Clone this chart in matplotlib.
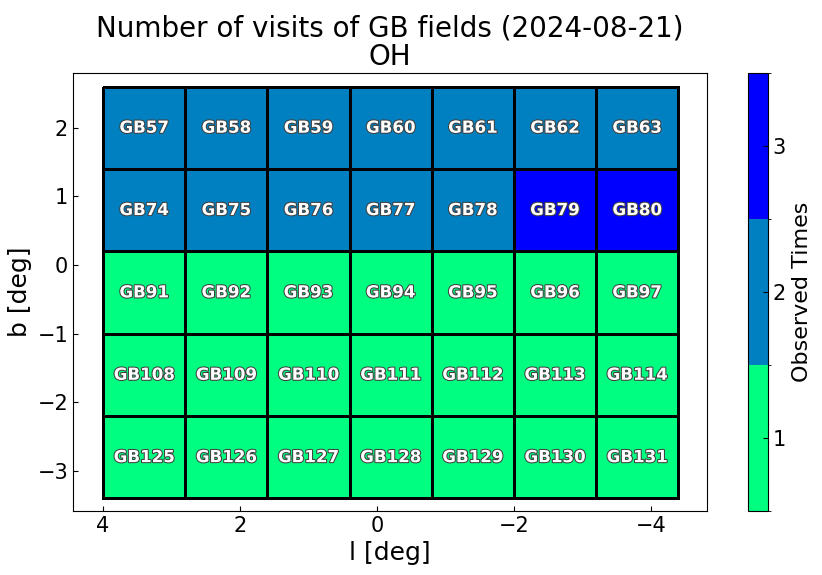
import numpy as np
import matplotlib
matplotlib.use("Agg")
import matplotlib.pyplot as plt
import matplotlib.patheffects as pe
from matplotlib.colors import ListedColormap, BoundaryNorm

# field grid (galactic l, b edges in deg)
l_edges = [4.0, 2.8, 1.6, 0.4, -0.8, -2.0, -3.2, -4.4]
b_edges = [2.6, 1.4, 0.2, -1.0, -2.2, -3.4]

field_ids = [
    [57, 58, 59, 60, 61, 62, 63],
    [74, 75, 76, 77, 78, 79, 80],
    [91, 92, 93, 94, 95, 96, 97],
    [108, 109, 110, 111, 112, 113, 114],
    [125, 126, 127, 128, 129, 130, 131],
]
visits = [
    [2, 2, 2, 2, 2, 2, 2],
    [2, 2, 2, 2, 2, 3, 3],
    [1, 1, 1, 1, 1, 1, 1],
    [1, 1, 1, 1, 1, 1, 1],
    [1, 1, 1, 1, 1, 1, 1],
]

cmap = ListedColormap(["#00ff80", "#0080c0", "#0000ff"])
norm = BoundaryNorm([0.5, 1.5, 2.5, 3.5], cmap.N)

fig = plt.figure(figsize=(8.22, 5.75), dpi=100)
ax = fig.add_axes([0.0888, 0.1113, 0.7713, 0.7617])
cax = fig.add_axes([0.910, 0.1113, 0.0243, 0.7617])

mesh = ax.pcolormesh(l_edges, b_edges, np.array(visits), cmap=cmap, norm=norm,
                     edgecolors="k", linewidth=2)

l_c = [(l_edges[i] + l_edges[i + 1]) / 2 for i in range(len(l_edges) - 1)]
b_c = [(b_edges[j] + b_edges[j + 1]) / 2 for j in range(len(b_edges) - 1)]
for j, b in enumerate(b_c):
    for i, l in enumerate(l_c):
        ax.text(l, b, "GB%d" % field_ids[j][i], ha="center", va="center",
                color="white", fontsize=12, fontweight="bold",
                path_effects=[pe.withStroke(linewidth=1.5, foreground="#404040")])

ax.set_xlim(4.44, -4.82)
ax.set_ylim(-3.585, 2.797)
ax.set_xticks([4, 2, 0, -2, -4])
ax.set_yticks([-3, -2, -1, 0, 1, 2])
ax.tick_params(direction="in", labelsize=15)
ax.set_xlabel("l [deg]", fontsize=18)
ax.set_ylabel("b [deg]", fontsize=18)
ax.set_title("Number of visits of GB fields (2024-08-21)\nOH", fontsize=20, linespacing=1.0)

cb = fig.colorbar(mesh, cax=cax, ticks=[1, 2, 3])
cb.ax.tick_params(direction="in", labelsize=15)
cb.set_label("Observed Times", fontsize=16)

fig.savefig("out.png", dpi=100)
